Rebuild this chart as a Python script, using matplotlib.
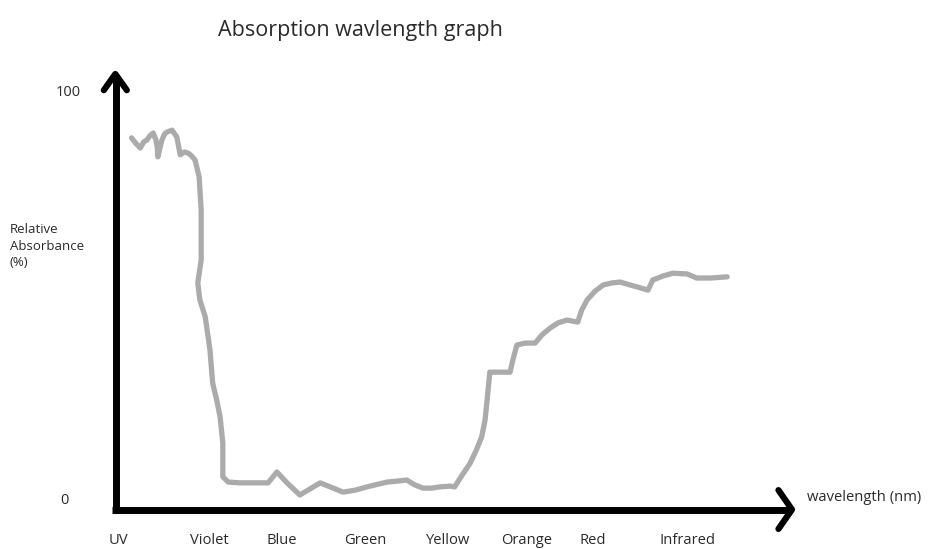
import matplotlib
matplotlib.use("Agg")
import matplotlib.pyplot as plt

# Position along the wavelength axis (0 = origin, 100 = arrow tip)
position = [2.3, 3.0, 3.6, 4.1, 4.6, 5.0, 5.5, 5.9, 6.1, 6.2, 6.5, 6.8, 7.2, 7.5, 8.3,
            9.0, 9.5, 10.1, 10.7, 11.2, 11.7, 12.3, 12.6, 12.6, 12.1, 12.4, 13.2, 13.9,
            14.3, 14.9, 15.4, 15.8, 15.8, 16.6, 18.3, 22.5, 23.8, 25.3, 27.2, 28.7, 30.2,
            31.7, 33.6, 35.4, 37.1, 40.1, 42.0, 43.0, 44.2, 45.4, 46.7, 47.9, 49.4, 50.1,
            51.2, 52.4, 53.3, 54.1, 54.6, 54.9, 55.3, 56.8, 58.3, 58.7, 59.3, 60.5, 62.0,
            63.0, 64.2, 65.4, 66.7, 68.3, 68.9, 69.7, 70.9, 72.1, 73.4, 74.6, 76.0, 77.1,
            78.7, 79.4, 80.9, 82.4, 84.5, 85.9, 87.9, 90.4]
absorbance = [88.9, 87.4, 86.4, 87.9, 88.4, 89.4, 90.1, 88.4, 86.6, 84.2, 86.4, 88.4, 89.9,
              90.3, 90.8, 89.1, 84.7, 85.4, 85.1, 84.4, 83.4, 79.2, 71.0, 58.7, 53.0, 48.8,
              44.6, 36.4, 28.2, 24.0, 19.8, 13.4, 5.0, 3.7, 3.5, 3.5, 6.2, 3.5, 0.5, 2.0,
              3.5, 2.5, 1.2, 1.7, 2.5, 3.7, 4.0, 4.2, 3.0, 2.2, 2.2, 2.5, 2.7, 2.5, 5.4,
              8.4, 11.6, 14.9, 19.1, 24.0, 30.9, 30.9, 30.9, 33.9, 37.6, 38.1, 38.1, 40.1,
              41.8, 43.1, 43.8, 43.3, 46.3, 48.8, 51.0, 52.5, 53.0, 53.2, 52.5, 52.0, 51.2,
              53.7, 54.7, 55.4, 55.2, 54.2, 54.2, 54.5]

categories = ["UV", "Violet", "Blue", "Green", "Yellow", "Orange", "Red", "Infrared"]
category_pos = [0.3, 13.8, 24.5, 36.9, 49.0, 60.7, 70.5, 84.5]
y_tick_values = [0, 100]
y_tick_labels = ["0", "100"]
ylabel_lines = ["Relative", "Absorbance", "(%)"]

plt.rcParams['font.family'] = ['Open Sans', 'DejaVu Sans']
TXT = "#2a2a2a"

fig = plt.figure(figsize=(9.38, 5.49), dpi=100)
ax = fig.add_axes([0, 0, 1, 1])
ax.set_xlim(-17.16, 121.6)
ax.set_ylim(-12.87, 123.02)
ax.axis("off")

# curve
ax.plot(position, absorbance, color="#ababab", lw=3.8, solid_joinstyle="round",
        solid_capstyle="round", zorder=2)

# axes drawn as hand-style arrows
axis_kw = dict(color="black", lw=5, solid_capstyle="butt", solid_joinstyle="miter", zorder=3)
ax.plot([0, 0], [-3.96, 104.0], **axis_kw)
ax.plot([-0.6, 99.6], [-3.1, -3.1], **axis_kw)
head_kw = dict(color="black", lw=4.5, solid_capstyle="round", solid_joinstyle="round", zorder=3)
ax.plot([-1.8, -0.1, 1.6], [100.7, 104.7, 100.7], **head_kw)
ax.plot([98.0, 100.0, 98.0], [1.7, -3.1, -7.9], **head_kw)

# y tick labels
ax.text(-7.0, y_tick_values[1] - 0.8, y_tick_labels[1], ha="center", va="baseline",
        fontsize=10.5, color=TXT)
ax.text(-7.6, y_tick_values[0] - 1.8, y_tick_labels[0], ha="center", va="baseline",
        fontsize=10.5, color=TXT)

for p, c in zip(category_pos, categories):
    ax.text(p, -11.7, c, ha="center", va="baseline", fontsize=10.6, color=TXT)

for i, line in enumerate(ylabel_lines):
    ax.text(-15.7, 65.3 - 4.1 * i, line, ha="left", va="baseline", fontsize=9.5, color=TXT)

ax.text(102.2, -1.0, "wavelength (nm)", ha="left", va="baseline", fontsize=10.6, color=TXT)
ax.text(36.2, 114.0, "Absorption wavlength graph", ha="center", va="baseline", fontsize=15.5,
        color=TXT)

fig.savefig("out.png", dpi=100)
